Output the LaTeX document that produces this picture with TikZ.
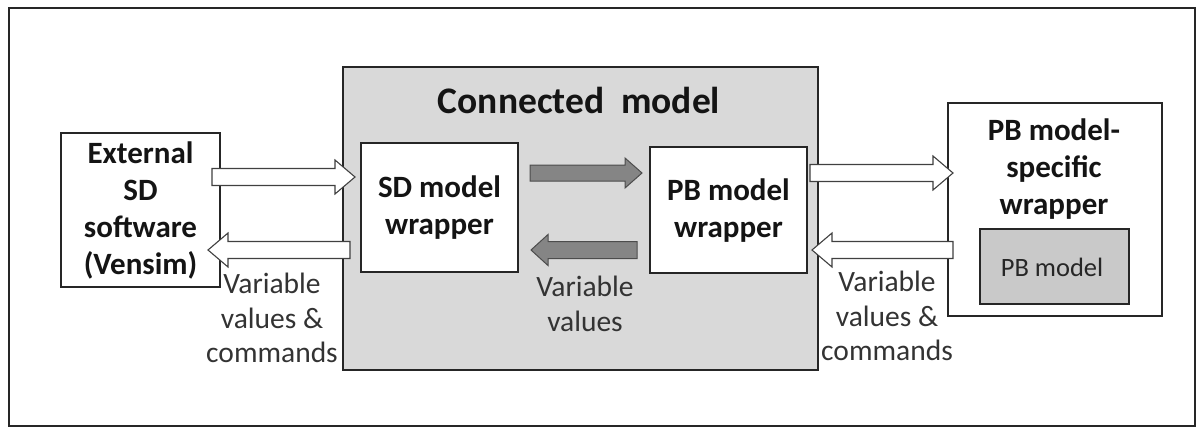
\documentclass[tikz,border=0pt]{standalone}
\usepackage{fontspec}
\setmainfont{Carlito}
\definecolor{panel}{HTML}{D9D9D9}
\definecolor{pbfill}{HTML}{C9C9C9}
\definecolor{garrow}{HTML}{858585}
\definecolor{txt}{HTML}{141414}
\newcommand\rblk[6]{% style, x1, x2, y, shaft half, head half
  \path[#1] (#2,{#4-#5}) -- ({#3-\hl},{#4-#5}) -- ({#3-\hl},{#4-#6}) -- (#3,#4) -- ({#3-\hl},{#4+#6}) -- ({#3-\hl},{#4+#5}) -- (#2,{#4+#5}) -- cycle;}
\newcommand\lblk[6]{% style, x1 (tail, right), x2 (tip, left), y
  \path[#1] (#2,{#4-#5}) -- ({#3+\hl},{#4-#5}) -- ({#3+\hl},{#4-#6}) -- (#3,#4) -- ({#3+\hl},{#4+#6}) -- ({#3+\hl},{#4+#5}) -- (#2,{#4+#5}) -- cycle;}
\begin{document}
\begin{tikzpicture}[x=1pt,y=-1pt,
  box/.style={draw=black!85,line width=1.2pt,fill=white},
  btxt/.style={font=\fontsize{31}{37}\selectfont\bfseries,text=txt,align=center,inner sep=0pt},
  ltxt/.style={font=\fontsize{29.5}{34.5}\selectfont,text=black!80,align=center,inner sep=0pt},
  warrow/.style={draw=black!75,line width=1.1pt,fill=white,line join=miter},
  garrowst/.style={draw=black!70,line width=1pt,fill=garrow,line join=miter}]
\useasboundingbox (0,0) rectangle (1201,428);
% outer frame
\draw[black!85,line width=2.5pt] (9,8) rectangle (1195,426);
% connected model panel
\draw[black!85,line width=1.2pt,fill=panel] (343,67) rectangle (818,370);
\node[font=\fontsize{37.5}{42}\selectfont\bfseries,text=txt] (title) at (579,100) {Connected\ \ model};
% boxes
\draw[box] (61,133) rectangle (220,287);
\node[btxt] (ext) at (140.5,210) {External\\SD\\software\\(Vensim)};
\draw[box] (361,143) rectangle (518,272);
\node[btxt] (sdw) at (439.5,208) {SD model\\wrapper};
\draw[box] (650,147) rectangle (807,273);
\node[btxt] (pbw) at (728.5,211) {PB model\\wrapper};
\draw[box] (948,103) rectangle (1162,316);
\node[btxt] (pbs) at (1054,169) {PB model-\\specific\\wrapper};
\draw[draw=black!85,line width=1.2pt,fill=pbfill] (980,229) rectangle (1129,304);
\node[font=\fontsize{26.5}{30}\selectfont,text=black!85] (pbm) at (1052,267) {PB model};
% white block arrows
\def\hl{20}
\rblk{warrow}{212}{355}{177}{8.5}{17}
\lblk{warrow}{350}{208}{250}{8.5}{17}
\rblk{warrow}{810}{953}{173}{8.5}{17}
\lblk{warrow}{953}{812}{250}{8.5}{17}
% gray block arrows
\def\hl{17}
\rblk{garrowst}{530}{642}{173}{8}{15}
\lblk{garrowst}{637}{531}{250}{8.5}{15.5}
% labels
\node[ltxt] (l1) at (272,318) {Variable\\values \&\\commands};
\node[ltxt] (l2) at (585,304) {Variable\\values};
\node[ltxt] (l3) at (887,316) {Variable\\values \&\\commands};
\end{tikzpicture}
\end{document}
